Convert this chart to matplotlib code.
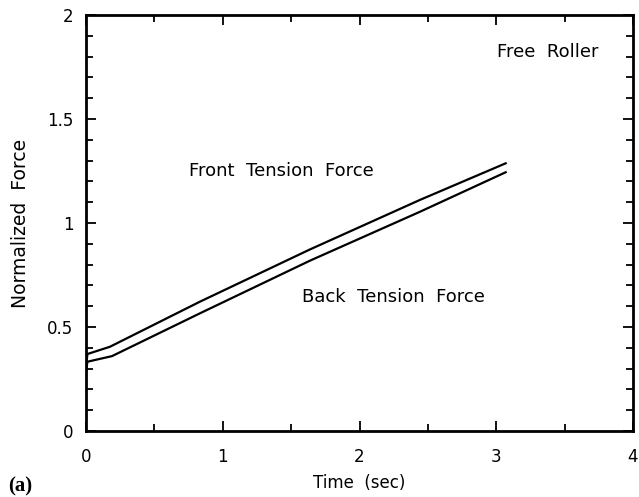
import matplotlib
matplotlib.use("Agg")
import matplotlib.pyplot as plt
from matplotlib.ticker import MultipleLocator

# Data
front_t = [0.0, 0.01, 0.175, 0.834, 1.638, 2.442, 3.069]
front_f = [0.30, 0.37, 0.405, 0.622, 0.873, 1.111, 1.287]
back_t = [0.0, 0.01, 0.19, 0.834, 1.638, 2.442, 3.069]
back_f = [0.28, 0.333, 0.36, 0.566, 0.819, 1.054, 1.244]

xticks = [0, 1, 2, 3, 4]
yticks = [0, 0.5, 1, 1.5, 2]
ytick_labels = ["0", "0.5", "1", "1.5", "2"]

plt.rcParams['font.family'] = ['DejaVu Sans']

fig = plt.figure(figsize=(6.39, 4.97), dpi=100)
ax = fig.add_axes([86/639, 1 - 431/497, (633-86)/639, (431-15)/497])

ax.plot(front_t, front_f, color='black', lw=1.6)
ax.plot(back_t, back_f, color='black', lw=1.6)

ax.set_xlim(0, 4)
ax.set_ylim(0, 2)
ax.set_xticks(xticks)
ax.set_yticks(yticks)
ax.set_yticklabels(ytick_labels)
ax.xaxis.set_minor_locator(MultipleLocator(0.5))
ax.yaxis.set_minor_locator(MultipleLocator(0.1))
ax.tick_params(which='both', direction='in', top=True, right=True, width=1.3,
               labelsize=12)
ax.tick_params(axis='x', pad=12)
ax.tick_params(axis='y', pad=9)
ax.tick_params(which='major', length=7)
ax.tick_params(which='minor', length=5)
for s in ax.spines.values():
    s.set_linewidth(2)

ax.set_xlabel("Time  (sec)", fontsize=12, labelpad=6)
ax.set_ylabel("Normalized  Force", fontsize=13.5, labelpad=12)

ax.text(3.38, 1.82, "Free  Roller", fontsize=13, ha='center', va='center')
ax.text(1.43, 1.25, "Front  Tension  Force", fontsize=13, ha='center', va='center')
ax.text(2.245, 0.644, "Back  Tension  Force", fontsize=13, ha='center', va='center')

fig.text(8/639, 1 - 486/497, "(a)", fontsize=15, fontweight='bold',
         family='Liberation Serif', ha='left', va='center')

fig.savefig("out.png", dpi=100)
